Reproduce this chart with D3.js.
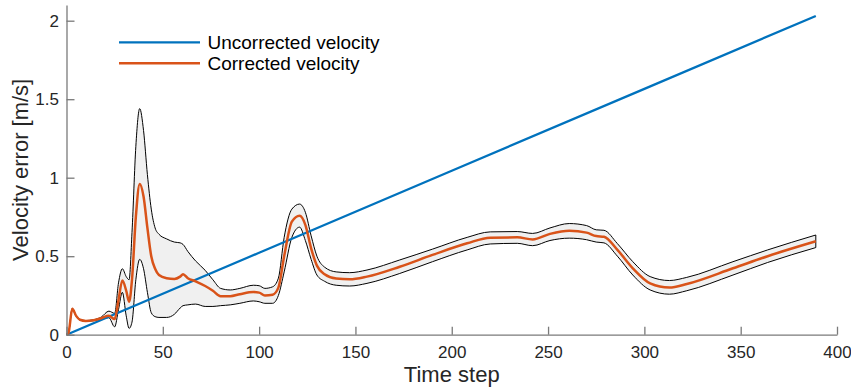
<!DOCTYPE html>
<html>
<head>
<meta charset="utf-8">
<script src="https://cdn.jsdelivr.net/npm/d3@7"></script>
<style>
  body { margin: 0; background: #fff; }
  svg { display: block; font-family: "Liberation Sans", Arial, Helvetica, sans-serif; }
  .axis text { fill: #262626; font-size: 17px; }
  .axis path, .axis line { stroke: #7a7a7a; stroke-width: 1.3; }
</style>
</head>
<body>
<div id="chart"></div>
<script>
// time steps
const steps = [0, 1, 3, 5, 7, 10, 14, 18, 22, 25, 27, 29, 31, 32.5, 34, 36, 38, 40, 42, 44, 46, 48, 52, 56, 59, 60.5, 63, 67, 72, 76, 80, 85, 90, 97, 100, 103, 107, 110, 113, 117, 121, 124, 127, 130, 134, 140, 147, 156, 173, 190, 208, 220, 234, 242, 251, 261, 270, 275, 279, 286, 294, 303, 313, 322, 346, 364, 389];
// corrected velocity error (mean)
const corrected = [0, 0.01, 0.165, 0.12, 0.095, 0.088, 0.092, 0.105, 0.12, 0.1, 0.22, 0.345, 0.28, 0.21, 0.35, 0.75, 0.96, 0.88, 0.68, 0.5, 0.42, 0.38, 0.36, 0.355, 0.37, 0.385, 0.36, 0.34, 0.31, 0.28, 0.245, 0.245, 0.258, 0.272, 0.268, 0.25, 0.255, 0.3, 0.5, 0.72, 0.758, 0.7, 0.55, 0.44, 0.385, 0.358, 0.353, 0.37, 0.433, 0.508, 0.582, 0.618, 0.62, 0.607, 0.642, 0.662, 0.65, 0.628, 0.624, 0.54, 0.423, 0.327, 0.3, 0.323, 0.423, 0.5, 0.595];
// band edges
const upper = [0, 0.01, 0.168, 0.122, 0.097, 0.09, 0.095, 0.112, 0.15, 0.136, 0.33, 0.42, 0.37, 0.35, 0.65, 1.2, 1.44, 1.3, 1.02, 0.8, 0.68, 0.64, 0.61, 0.59, 0.585, 0.575, 0.53, 0.47, 0.41, 0.35, 0.295, 0.285, 0.295, 0.315, 0.312, 0.295, 0.305, 0.36, 0.62, 0.8, 0.832, 0.78, 0.63, 0.5, 0.43, 0.4, 0.395, 0.412, 0.476, 0.545, 0.62, 0.655, 0.657, 0.645, 0.68, 0.708, 0.695, 0.668, 0.665, 0.58, 0.465, 0.37, 0.345, 0.365, 0.465, 0.54, 0.635];
const lower = [0, 0.01, 0.162, 0.118, 0.093, 0.086, 0.089, 0.098, 0.108, 0.05, 0.16, 0.27, 0.12, 0.04, 0.08, 0.35, 0.48, 0.42, 0.27, 0.14, 0.115, 0.11, 0.11, 0.13, 0.17, 0.185, 0.19, 0.195, 0.18, 0.18, 0.185, 0.19, 0.2, 0.215, 0.21, 0.2, 0.2, 0.25, 0.4, 0.62, 0.685, 0.6, 0.48, 0.38, 0.34, 0.315, 0.31, 0.327, 0.39, 0.465, 0.54, 0.578, 0.582, 0.567, 0.6, 0.615, 0.605, 0.59, 0.585, 0.5, 0.38, 0.285, 0.258, 0.28, 0.38, 0.46, 0.555];
// uncorrected velocity error (straight drift)
const uncorrSteps = [0, 100, 200, 300, 389];
const uncorrected = [0, 0.522, 1.044, 1.566, 2.03];

const xTicks = [0, 50, 100, 150, 200, 250, 300, 350, 400];
const yTicks = [0, 0.5, 1, 1.5, 2];
const seriesNames = ["Uncorrected velocity", "Corrected velocity"];

const width = 851, height = 387;
const margin = { top: 5, right: 14, bottom: 52.3, left: 66.5 };
const blue = "#0072BD", orange = "#D95319";

const svg = d3.select("#chart").append("svg")
  .attr("width", width).attr("height", height);

const x = d3.scaleLinear().domain([0, 400]).range([margin.left, width - margin.right]);
const y = d3.scaleLinear().domain([0, 2.1]).range([height - margin.bottom, margin.top]);

const pts = steps.map((t, i) => ({ t: t, m: corrected[i], hi: upper[i], lo: lower[i] }));
const curve = d3.curveMonotoneX;

// shaded band
svg.append("path")
  .datum(pts)
  .attr("d", d3.area().x(d => x(d.t)).y0(d => y(d.lo)).y1(d => y(d.hi)).curve(curve))
  .attr("fill", "#f0f0f0")
  .attr("stroke", "#000")
  .attr("stroke-width", 1);

// uncorrected
svg.append("path")
  .datum(uncorrSteps.map((t, i) => ({ t: t, v: uncorrected[i] })))
  .attr("d", d3.line().x(d => x(d.t)).y(d => y(d.v)))
  .attr("fill", "none").attr("stroke", blue).attr("stroke-width", 2.3);

// corrected
svg.append("path")
  .datum(pts)
  .attr("d", d3.line().x(d => x(d.t)).y(d => y(d.m)).curve(curve))
  .attr("fill", "none").attr("stroke", orange).attr("stroke-width", 2.5);

// axes
const gx = svg.append("g").attr("class", "axis")
  .attr("transform", `translate(0,${y(0)})`)
  .call(d3.axisBottom(x).tickValues(xTicks).tickSizeInner(-8).tickSizeOuter(0).tickPadding(11));
const gy = svg.append("g").attr("class", "axis")
  .attr("transform", `translate(${x(0)},0)`)
  .call(d3.axisLeft(y).tickValues(yTicks).tickFormat(d3.format("")).tickSizeInner(-8).tickSizeOuter(0).tickPadding(7.5));
svg.selectAll(".axis text").attr("font-family", null);

// axis labels
svg.append("text")
  .attr("x", (x(0) + x(400)) / 2).attr("y", 381.5)
  .attr("text-anchor", "middle").attr("fill", "#262626").style("font-size", "22px")
  .text("Time step");
svg.append("text")
  .attr("transform", `translate(28,${(y(0) + y(2.1)) / 2}) rotate(-90)`)
  .attr("text-anchor", "middle").attr("fill", "#262626").style("font-size", "22px")
  .text("Velocity error [m/s]");

// legend
const legend = svg.append("g");
[blue, orange].forEach((c, i) => {
  const ly = 42.3 + i * 21;
  legend.append("line").attr("x1", 119).attr("x2", 200).attr("y1", ly).attr("y2", ly)
    .attr("stroke", c).attr("stroke-width", i ? 2.5 : 2.3);
  legend.append("text").attr("x", 207.5).attr("y", ly + 6.5)
    .attr("fill", "#000").style("font-size", "19px")
    .text(seriesNames[i]);
});
</script>
</body>
</html>
